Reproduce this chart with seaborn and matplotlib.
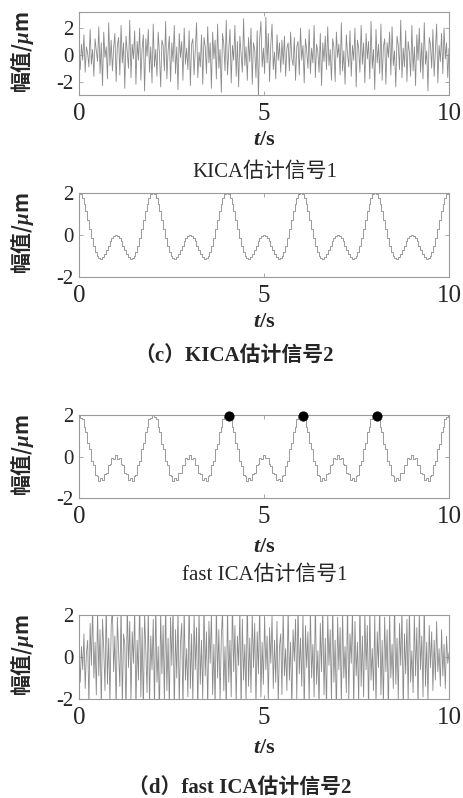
import numpy as np
import pandas as pd
import matplotlib
matplotlib.use("Agg")
import matplotlib.pyplot as plt
import seaborn as sns

# ---------------- data ----------------
kica_sig1 = [
    0.2,-1.1,0.8,-0.4,1.5,-1.3,0.6,0.1,-0.9,1.9,-0.7,0.4,-1.6,1.2,0.3,
    -0.5,2.1,-1.4,0.9,-2.3,1.7,-0.2,0.6,-1.8,2.4,-0.8,1.1,-1.2,0.5,1.6,
    -2.0,0.7,1.3,-1.5,2.2,-0.6,0.9,-2.5,1.4,0.2,-1.0,2.6,-1.7,0.8,-0.3,
    1.8,-2.2,1.0,-0.4,2.0,-1.9,0.5,1.5,-2.7,1.2,-0.1,1.9,-1.3,0.6,-2.1,
    2.3,-0.9,0.4,-1.6,1.7,0.1,-2.4,1.1,0.7,-1.2,2.5,-1.8,0.3,1.4,-2.0,
    0.9,-0.5,2.2,-1.4,0.6,-2.6,1.6,-0.2,1.0,-1.9,2.0,-0.7,0.5,-1.1,1.8,
    -2.3,0.8,1.2,-1.5,0.4,2.4,-1.7,0.2,-0.9,1.5,-2.2,1.3,0.6,-1.4,2.1,
    -0.6,0.9,-2.5,1.7,-0.3,1.1,-1.8,2.3,-1.0,0.4,-2.8,1.6,0.8,-1.2,2.6,
    -1.5,0.3,1.9,-2.1,0.7,-0.4,2.2,-1.6,1.0,-2.4,1.4,0.1,-1.3,2.7,-0.8,
    0.6,-1.9,1.3,-0.5,2.0,-2.2,0.9,0.4,-1.7,1.8,-3.2,1.2,2.5,-0.9,0.5,
    -1.4,2.8,-0.6,1.6,-2.0,0.8,2.3,-1.1,0.2,-1.8,1.5,-0.4,0.9,-1.3,1.1,
    -0.7,1.4,-1.6,0.5,0.9,-1.2,1.7,-0.3,-0.8,1.3,-1.9,0.6,1.0,-1.5,2.0,
    -0.4,0.7,-2.1,1.2,0.3,-1.0,1.9,-1.4,0.5,-0.6,2.2,-1.7,0.8,0.2,-1.3,
    1.6,-2.3,0.9,-0.5,1.4,-1.1,2.1,-0.8,0.4,-1.9,1.2,0.6,-2.0,1.7,-0.2,
    0.8,-1.5,2.4,-1.2,0.3,-2.2,1.5,0.1,-0.9,1.8,-1.6,0.7,-0.4,2.0,-2.4,
    1.1,0.5,-1.3,2.2,-0.7,0.9,-2.1,1.6,-0.3,1.0,-1.8,2.5,-1.0,0.4,-2.6,
    1.9,-0.6,0.8,-1.4,2.3,-1.9,0.6,1.2,-2.2,0.9,-0.2,1.7,-1.5,2.1,-0.8,
    0.3,-2.4,1.4,0.7,-1.1,2.6,-1.7,0.5,-0.9,1.8,-2.0,1.0,0.2,-1.6,2.2,
    -1.2,0.6,-2.3,1.5,-0.4,2.0,-1.3,0.9,-1.8,2.4,-0.7,0.3,-2.7,1.3,0.8,
    -1.0,1.9,-1.6,0.4,2.3,-2.1,0.7,-0.5,1.6,-1.4,2.0,-0.3,0.9,-1.7,0.5,
]

kica_sig2 = [
    2.00,1.94,1.76,1.48,1.12,0.71,0.28,-0.13,-0.50,-0.80,-1.00,-1.11,-1.12,-1.04,-0.90,-0.71,-0.50,-0.30,-0.14,-0.04,
    0.00,-0.04,-0.14,-0.30,-0.50,-0.71,-0.90,-1.04,-1.12,-1.11,-1.00,-0.80,-0.50,-0.13,0.28,0.71,1.12,1.48,1.76,1.94,
    2.00,1.94,1.76,1.48,1.12,0.71,0.28,-0.13,-0.50,-0.80,-1.00,-1.11,-1.12,-1.04,-0.90,-0.71,-0.50,-0.30,-0.14,-0.04,
    0.00,-0.04,-0.14,-0.30,-0.50,-0.71,-0.90,-1.04,-1.12,-1.11,-1.00,-0.80,-0.50,-0.13,0.28,0.71,1.12,1.48,1.76,1.94,
    2.00,1.94,1.76,1.48,1.12,0.71,0.28,-0.13,-0.50,-0.80,-1.00,-1.11,-1.12,-1.04,-0.90,-0.71,-0.50,-0.30,-0.14,-0.04,
    0.00,-0.04,-0.14,-0.30,-0.50,-0.71,-0.90,-1.04,-1.12,-1.11,-1.00,-0.80,-0.50,-0.13,0.28,0.71,1.12,1.48,1.76,1.94,
    2.00,1.94,1.76,1.48,1.12,0.71,0.28,-0.13,-0.50,-0.80,-1.00,-1.11,-1.12,-1.04,-0.90,-0.71,-0.50,-0.30,-0.14,-0.04,
    0.00,-0.04,-0.14,-0.30,-0.50,-0.71,-0.90,-1.04,-1.12,-1.11,-1.00,-0.80,-0.50,-0.13,0.28,0.71,1.12,1.48,1.76,1.94,
    2.00,1.94,1.76,1.48,1.12,0.71,0.28,-0.13,-0.50,-0.80,-1.00,-1.11,-1.12,-1.04,-0.90,-0.71,-0.50,-0.30,-0.14,-0.04,
    0.00,-0.04,-0.14,-0.30,-0.50,-0.71,-0.90,-1.04,-1.12,-1.11,-1.00,-0.80,-0.50,-0.13,0.28,0.71,1.12,1.48,1.76,1.94,
    2.00,
]

fast_sig1 = [
    2.00,1.86,1.80,1.41,1.18,0.63,0.35,-0.21,-0.43,-0.88,-0.93,-1.20,-1.05,-1.12,-0.82,-0.79,-0.42,-0.38,-0.06,-0.12,
    0.08,-0.10,-0.07,-0.38,-0.43,-0.79,-0.83,-1.12,-1.06,-1.19,-0.93,-0.88,-0.43,-0.21,0.35,0.63,1.18,1.41,1.82,1.87,
    2.00,1.88,1.79,1.40,1.19,0.62,0.36,-0.22,-0.42,-0.89,-0.92,-1.20,-1.04,-1.13,-0.81,-0.80,-0.41,-0.39,-0.06,-0.13,
    0.09,-0.11,-0.06,-0.39,-0.42,-0.80,-0.82,-1.13,-1.05,-1.20,-0.92,-0.89,-0.42,-0.22,0.36,0.62,1.19,1.40,1.81,1.88,
    2.00,1.89,1.79,1.42,1.17,0.64,0.34,-0.20,-0.44,-0.87,-0.94,-1.19,-1.06,-1.11,-0.83,-0.78,-0.43,-0.37,-0.07,-0.11,
    0.07,-0.09,-0.08,-0.37,-0.44,-0.78,-0.84,-1.11,-1.07,-1.18,-0.94,-0.87,-0.44,-0.20,0.34,0.64,1.17,1.42,1.80,1.89,
    2.00,1.88,1.80,1.41,1.18,0.63,0.35,-0.21,-0.43,-0.88,-0.93,-1.20,-1.05,-1.12,-0.82,-0.79,-0.42,-0.38,-0.06,-0.12,
    0.08,-0.10,-0.07,-0.38,-0.43,-0.79,-0.83,-1.12,-1.06,-1.19,-0.93,-0.88,-0.43,-0.21,0.35,0.63,1.18,1.41,1.82,1.87,
    2.00,1.87,1.79,1.40,1.19,0.62,0.36,-0.22,-0.42,-0.89,-0.92,-1.20,-1.04,-1.13,-0.81,-0.80,-0.41,-0.39,-0.06,-0.13,
    0.09,-0.11,-0.06,-0.39,-0.42,-0.80,-0.82,-1.13,-1.05,-1.20,-0.92,-0.89,-0.42,-0.22,0.36,0.62,1.19,1.40,1.81,1.88,
    2.00,
]

fast_peak_t = [4.05, 6.05, 8.05]
fast_peak_v = [1.95, 1.95, 1.95]

fast_sig2 = [
    0.3,-1.2,0.5,-0.6,1.1,-1.5,0.2,0.8,-2.3,1.6,-0.4,2.4,-1.0,0.7,-1.8,
    2.2,-0.9,1.3,-2.5,1.8,0.4,-1.6,2.6,-1.3,0.9,-2.2,1.5,2.3,-0.7,1.0,
    -2.6,1.9,0.2,-1.4,2.5,-2.4,1.1,0.6,-2.8,2.7,-0.5,1.7,-2.1,1.2,-0.3,
    2.3,-2.6,0.8,-1.1,2.8,-1.9,1.4,-2.7,2.1,0.3,-1.7,2.4,-2.3,1.0,-0.6,
    1.8,-2.5,2.6,-1.2,0.5,-2.9,2.2,-0.8,1.5,-2.2,2.7,-1.6,0.9,-2.4,1.9,
    -0.4,2.5,-2.7,1.3,-1.0,2.2,-2.3,0.7,1.6,-2.6,2.4,-1.1,0.4,-1.9,2.8,
    -1.5,1.1,-2.2,2.0,-0.6,1.4,-2.8,2.3,-1.3,0.8,-2.0,2.6,-0.9,1.2,-2.5,
    1.7,-0.3,2.1,-1.8,0.6,-2.4,2.5,-1.0,1.3,-2.1,0.9,2.2,-1.6,0.5,-2.7,
    2.4,-1.2,0.8,-1.9,2.7,-0.7,1.5,-2.3,1.0,-0.4,2.3,-2.6,1.8,-1.1,0.6,
    -2.2,2.9,-1.4,0.9,-1.7,2.1,-0.5,1.6,-2.4,1.2,-0.8,2.5,-1.9,0.7,-1.3,
    1.9,-0.6,1.0,-2.1,1.4,-0.3,2.0,-1.5,0.8,-1.2,1.7,-2.3,0.5,1.1,-1.8,
    2.2,-0.9,0.4,-1.6,2.4,-1.1,0.7,-2.5,1.3,-0.2,1.8,-2.0,2.6,-0.8,0.9,
    -1.4,2.1,-2.7,1.5,-0.5,1.2,-2.2,2.3,-1.0,0.6,-1.9,2.7,-1.3,0.3,-2.4,
    1.6,-0.7,2.4,-1.8,0.9,-2.6,2.0,-0.4,1.3,-2.1,2.5,-1.2,0.8,-2.8,1.9,
    -0.6,1.4,-2.3,2.2,-1.0,0.5,-1.7,2.6,-2.0,1.1,-0.3,2.3,-2.5,1.7,-0.9,
    0.7,-2.2,2.8,-1.4,1.0,-1.9,2.1,-0.6,1.5,-2.7,2.4,-1.1,0.4,-1.6,2.0,
    -2.4,1.2,-0.5,2.5,-1.8,0.8,-2.3,1.9,-0.7,1.3,-2.9,2.2,-1.0,0.6,-1.5,
    2.7,-1.3,0.9,-2.0,1.6,-0.4,2.3,-2.6,1.1,-0.8,1.8,-2.2,2.5,-1.2,0.3,
    -1.7,2.0,-0.9,1.4,-2.5,2.2,-0.6,1.0,-1.9,2.6,-1.4,0.7,-2.1,1.5,-0.5,
    1.2,-1.6,0.8,-1.1,1.7,-0.7,0.4,-1.4,1.3,-0.9,0.6,-1.5,1.0,-0.3,0.2,
]

captions = ["KICA估计信号1", "（c）KICA估计信号2", "fast ICA估计信号1", "（d）fast ICA估计信号2"]
x_ticks = [0, 5, 10]
t_max = 10

# ---------------- style ----------------
sns.set_theme(style="white")
plt.rcParams['font.family'] = ['Liberation Serif', 'Noto Sans CJK SC', 'DejaVu Sans']
plt.rcParams['mathtext.fontset'] = 'custom'
plt.rcParams['mathtext.rm'] = 'Liberation Serif:bold'
plt.rcParams['mathtext.it'] = 'Liberation Serif:italic:bold'
plt.rcParams['mathtext.bf'] = 'Liberation Serif:bold'
plt.rcParams['axes.unicode_minus'] = False

fig = plt.figure(figsize=(4.64, 7.98), dpi=100)
W, H = 464, 798

def add_axes(top_px, bottom_px, left_px=79, right_px=449):
    return fig.add_axes([left_px / W, 1 - bottom_px / H,
                         (right_px - left_px) / W, (bottom_px - top_px) / H])

panels = [
    dict(top=12, bottom=95, data=kica_sig1, ylim=(-3.0, 3.2), steps=False, xl=-0.54),
    dict(top=193, bottom=277, data=kica_sig2, ylim=(-2, 2), steps=True, xl=-0.54),
    dict(top=415, bottom=498, data=fast_sig1, ylim=(-2, 2), steps=True, xl=-0.59),
    dict(top=615, bottom=699, data=fast_sig2, ylim=(-2, 2), steps=False, xl=-0.58),
]
caption_y = [172, 357, 575, 789]
caption_x = [265, 234, 265, 240]

line_color = '#8a8a8a'
frame_color = '#9a9a9a'

for i, p in enumerate(panels):
    ax = add_axes(p['top'], p['bottom'])
    vals = p['data']
    df = pd.DataFrame({'t': np.linspace(0, t_max, len(vals)), 'v': vals})
    kw = dict(drawstyle='steps-mid') if p['steps'] else {}
    sns.lineplot(data=df, x='t', y='v', ax=ax, color=line_color,
                 linewidth=0.6, estimator=None, sort=False, **kw)
    if i == 2:
        dots = pd.DataFrame({'t': fast_peak_t, 'v': fast_peak_v})
        sns.scatterplot(data=dots, x='t', y='v', ax=ax, color='black', s=45,
                        edgecolor='black', zorder=5, clip_on=False)
    ax.set_xlim(0, t_max)
    ax.set_ylim(*p['ylim'])
    ax.set_xticks(x_ticks)
    ax.set_yticks([-2, 0, 2])
    ax.set_xticklabels([str(v) for v in x_ticks], fontsize=18)
    ax.set_yticklabels(['-2', '0', '2'], fontsize=15)
    ax.tick_params(direction='in', length=3, width=0.6, color=frame_color,
                   top=True, right=True, bottom=True, left=True)
    ax.tick_params(axis='x', pad=6)
    ax.tick_params(axis='y', pad=4)
    for s in ax.spines.values():
        s.set_color(frame_color)
        s.set_linewidth(0.8)
        s.set_visible(True)
    ax.set_xlabel(r'$t$/s', fontsize=16, fontweight='bold')
    ax.xaxis.set_label_coords(0.5, p['xl'])
    ax.xaxis.label.set_va('center')
    ax.set_ylabel(r'幅值/$\mu$m', fontsize=15, fontweight='bold',
                  family=['Noto Sans CJK SC'])
    ax.yaxis.set_label_coords(-0.152, 0.52)
    ax.yaxis.label.set_va('center')
    fs = 15
    fig.text(caption_x[i] / W, 1 - caption_y[i] / H, captions[i],
             ha='center', va='center', fontsize=fs,
             fontweight='normal' if i % 2 == 0 else 'bold')

fig.savefig('out.png', dpi=100, facecolor='white')
